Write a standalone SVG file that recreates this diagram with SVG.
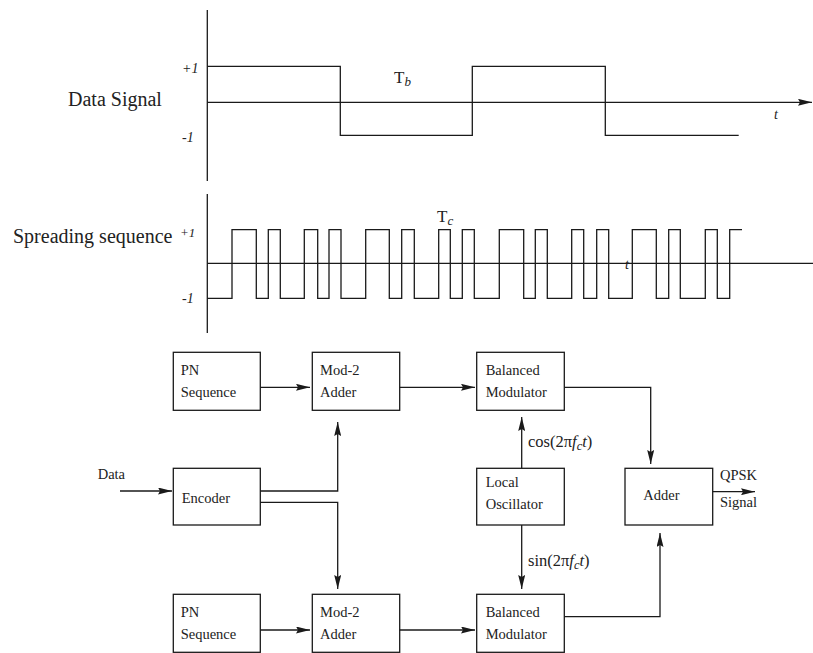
<svg xmlns="http://www.w3.org/2000/svg" width="813" height="653" viewBox="0 0 813 653">
<style>
.ln{fill:none;stroke:#1a1a1a;stroke-width:1.3}
.box{fill:#fff;stroke:#1a1a1a;stroke-width:1.3}
.t{font-family:"Liberation Serif","Times New Roman",serif;fill:#222}
.lbl{font-size:20px}
.bt{font-size:14.5px}
.it{font-style:italic}
</style>
<defs>
<marker id="ah" viewBox="0 0 14 7" refX="14" refY="3.5" markerWidth="14" markerHeight="7" markerUnits="userSpaceOnUse" orient="auto">
<path d="M0,0 L14,3.5 L0,7 L2,3.5 z" fill="#1a1a1a"/>
</marker>
</defs>
<rect width="813" height="653" fill="#fff"/>

<g id="data-signal">
<line class="ln" x1="207.3" y1="10" x2="207.3" y2="181"/>
<line class="ln" x1="207.3" y1="102.3" x2="812" y2="102.3" marker-end="url(#ah)"/>
<polyline class="ln" points="207.3,66.3 340.3,66.3 340.3,135.3 472.3,135.3 472.3,66.3 605.3,66.3 605.3,135.3 738.7,135.3"/>
<text class="t lbl" x="68" y="106">Data Signal</text>
<text class="t it" x="182" y="73" font-size="14">+1</text>
<text class="t it" x="182" y="142" font-size="14">-1</text>
<text class="t" x="394" y="83" font-size="17">T<tspan class="it" font-size="13" dy="3">b</tspan></text>
<text class="t it" x="774" y="119" font-size="14">t</text>
</g>

<g id="spreading-sequence">
<line class="ln" x1="207.3" y1="194" x2="207.3" y2="333"/>
<line class="ln" x1="207.3" y1="263.3" x2="813" y2="263.3"/>
<polyline class="ln" points="207.3,298.3 232,298.3 232,229.7 256.3,229.7 256.3,298.3 268.3,298.3 268.3,229.7 280.3,229.7 280.3,298.3 304.3,298.3 304.3,229.7 317.7,229.7 317.7,298.3 329,298.3 329,229.7 341,229.7 341,298.3 365.7,298.3 365.7,229.7 389.3,229.7 389.3,298.3 401.7,298.3 401.7,229.7 414.3,229.7 414.3,298.3 438.7,298.3 438.7,229.7 450.3,229.7 450.3,298.3 462.3,298.3 462.3,229.7 474.3,229.7 474.3,298.3 499.3,298.3 499.3,229.7 523.7,229.7 523.7,298.3 535.3,298.3 535.3,229.7 547.3,229.7 547.3,298.3 571.7,298.3 571.7,229.7 583.7,229.7 583.7,298.3 596.7,298.3 596.7,229.7 608.7,229.7 608.7,298.3 632.3,298.3 632.3,229.7 656.3,229.7 656.3,298.3 668.7,298.3 668.7,229.7 680.3,229.7 680.3,298.3 705.3,298.3 705.3,229.7 717.3,229.7 717.3,298.3 729.7,298.3 729.7,229.7 742,229.7"/>
<text class="t lbl" x="13" y="243">Spreading sequence</text>
<text class="t it" x="180" y="237" font-size="13">+1</text>
<text class="t it" x="182" y="303" font-size="14">-1</text>
<text class="t" x="437" y="222" font-size="17">T<tspan class="it" font-size="13" dy="3">c</tspan></text>
<text class="t it" x="625" y="269" font-size="14">t</text>
</g>

<g id="pn1">
<rect class="box" x="173.3" y="352.3" width="87" height="58"/>
<text class="t bt" x="180.7" y="375">PN</text>
<text class="t bt" x="180.7" y="397">Sequence</text>
</g>
<g id="mod1">
<rect class="box" x="312.3" y="352.3" width="87.4" height="58"/>
<text class="t bt" x="320" y="375">Mod-2</text>
<text class="t bt" x="320" y="397">Adder</text>
</g>
<g id="bm1">
<rect class="box" x="476.7" y="352.3" width="87.6" height="58"/>
<text class="t bt" x="485.7" y="375">Balanced</text>
<text class="t bt" x="485.7" y="397">Modulator</text>
</g>
<g id="encoder">
<rect class="box" x="173.3" y="468.3" width="87" height="56.7"/>
<text class="t bt" x="181.7" y="503">Encoder</text>
</g>
<g id="lo">
<rect class="box" x="476.7" y="468.3" width="87.6" height="56.7"/>
<text class="t bt" x="485.7" y="487">Local</text>
<text class="t bt" x="485.7" y="508.5">Oscillator</text>
</g>
<g id="adder">
<rect class="box" x="625" y="468.3" width="87.7" height="56.7"/>
<text class="t bt" x="643.3" y="499.5">Adder</text>
</g>
<g id="pn2">
<rect class="box" x="173.3" y="594.3" width="87" height="58"/>
<text class="t bt" x="180.7" y="617">PN</text>
<text class="t bt" x="180.7" y="639">Sequence</text>
</g>
<g id="mod2">
<rect class="box" x="312.3" y="594.3" width="87.4" height="58"/>
<text class="t bt" x="320" y="617">Mod-2</text>
<text class="t bt" x="320" y="639">Adder</text>
</g>
<g id="bm2">
<rect class="box" x="476.7" y="594.3" width="87.6" height="58"/>
<text class="t bt" x="485.7" y="617">Balanced</text>
<text class="t bt" x="485.7" y="639">Modulator</text>
</g>

<g id="connectors">
<line class="ln" x1="260.3" y1="387.3" x2="310" y2="387.3" marker-end="url(#ah)"/>
<line class="ln" x1="399.7" y1="387.3" x2="475" y2="387.3" marker-end="url(#ah)"/>
<line class="ln" x1="120" y1="491" x2="172" y2="491" marker-end="url(#ah)"/>
<polyline class="ln" points="260.3,491 337.7,491 337.7,422" marker-end="url(#ah)"/>
<polyline class="ln" points="260.3,502.3 337.7,502.3 337.7,589" marker-end="url(#ah)"/>
<line class="ln" x1="260.3" y1="630" x2="310" y2="630" marker-end="url(#ah)"/>
<line class="ln" x1="399.7" y1="630" x2="475" y2="630" marker-end="url(#ah)"/>
<polyline class="ln" points="564.3,387.3 650.7,387.3 650.7,464" marker-end="url(#ah)"/>
<line class="ln" x1="521.7" y1="468.3" x2="521.7" y2="417" marker-end="url(#ah)"/>
<line class="ln" x1="521.7" y1="525" x2="521.7" y2="589" marker-end="url(#ah)"/>
<polyline class="ln" points="564.3,616.7 660,616.7 660,533" marker-end="url(#ah)"/>
<line class="ln" x1="712.7" y1="491.7" x2="755" y2="491.7" marker-end="url(#ah)"/>
<text class="t bt" x="97.7" y="479">Data</text>
<text class="t" x="528" y="447" font-size="16.5">cos(2π<tspan class="it">f</tspan><tspan class="it" font-size="12.5" dy="3">c</tspan><tspan class="it" dy="-3">t</tspan>)</text>
<text class="t" x="528" y="566" font-size="16.5">sin(2π<tspan class="it">f</tspan><tspan class="it" font-size="12.5" dy="3">c</tspan><tspan class="it" dy="-3">t</tspan>)</text>
<text class="t bt" x="720" y="480">QPSK</text>
<text class="t bt" x="720" y="507">Signal</text>
</g>
</svg>
